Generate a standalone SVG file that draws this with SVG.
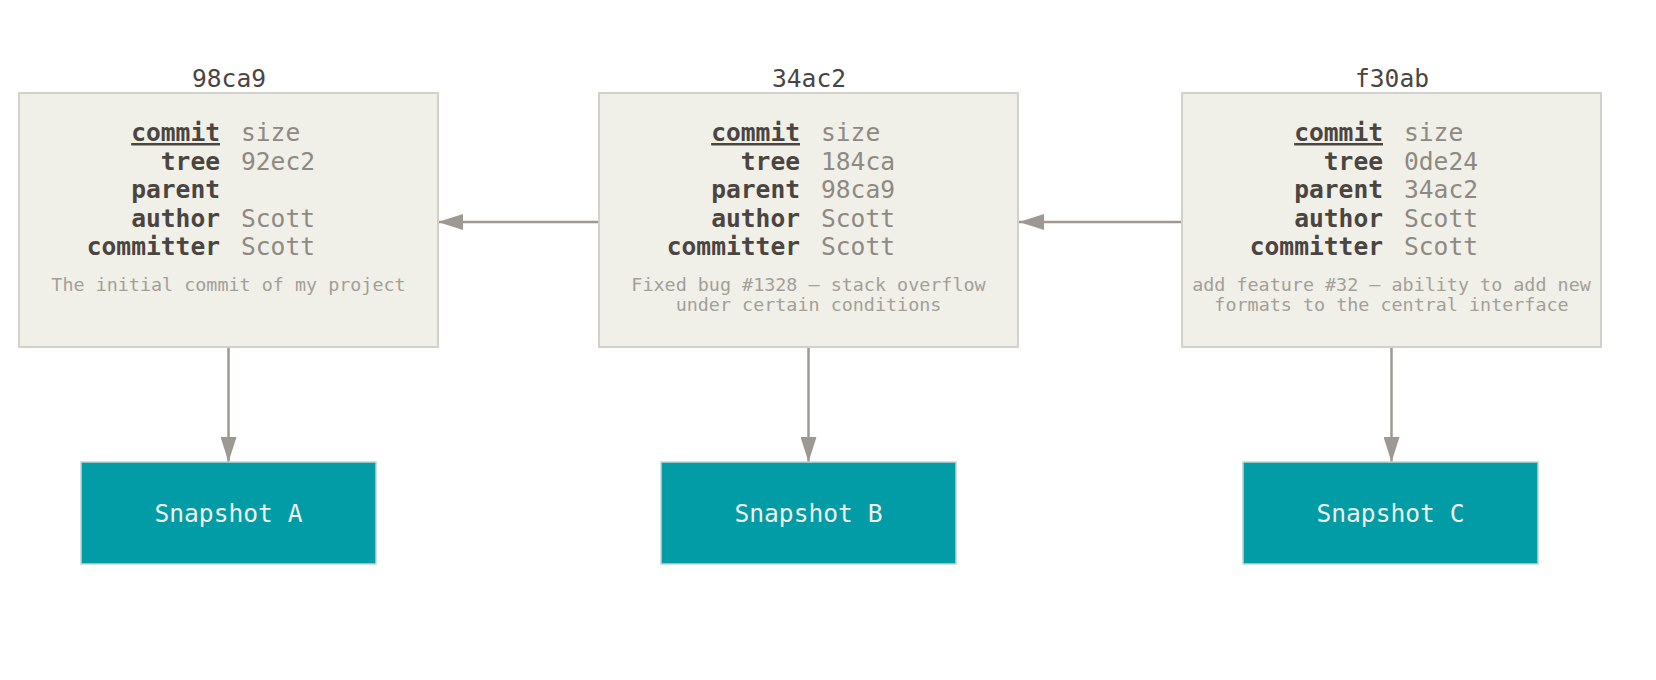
<svg xmlns="http://www.w3.org/2000/svg" width="1656" height="680" viewBox="0 0 1656 680">
<style>
.box{fill:#f0efe8;stroke:#d2d0ca;stroke-width:2}
.snap{fill:#029ca6;stroke:#c6d3d3;stroke-width:1.5}
.title{font-family:"DejaVu Sans Mono",monospace;font-size:24.6px;fill:#4b4541;text-anchor:middle}
.key{font-family:"DejaVu Sans Mono",monospace;font-size:24.6px;font-weight:bold;fill:#4b4541;text-anchor:end}
.val{font-family:"DejaVu Sans Mono",monospace;font-size:24.6px;fill:#8e8983}
.desc{font-family:"DejaVu Sans Mono",monospace;font-size:18.4px;fill:#a39f99;text-anchor:middle}
.stxt{font-family:"DejaVu Sans Mono",monospace;font-size:24.6px;fill:#f0efe8;text-anchor:middle}
.conn{stroke:#9e9892;stroke-width:2.5;fill:none}
</style>
<defs>
<marker id="ah" viewBox="0 0 25 16" refX="25" refY="8" markerWidth="25" markerHeight="16" markerUnits="userSpaceOnUse" orient="auto">
<path d="M0,0 L25,8 L0,16 Z" fill="#9e9892"/>
</marker>
</defs>
<rect width="1656" height="680" fill="#ffffff"/>
<g id="connectors">
<line class="conn" x1="599" y1="222" x2="438" y2="222" marker-end="url(#ah)"/>
<line class="conn" x1="1182" y1="222" x2="1019" y2="222" marker-end="url(#ah)"/>
<line class="conn" x1="228.5" y1="348" x2="228.5" y2="462" marker-end="url(#ah)"/>
<line class="conn" x1="808.5" y1="348" x2="808.5" y2="462" marker-end="url(#ah)"/>
<line class="conn" x1="1391.5" y1="348" x2="1391.5" y2="462" marker-end="url(#ah)"/>
</g>
<g id="commit-98ca9">
<text class="title" x="229" y="87">98ca9</text>
<rect class="box" x="19" y="93" width="419" height="254"/>
<text class="key" x="220" y="141" text-decoration="underline">commit</text>
<text class="val" x="241" y="141">size</text>
<text class="key" x="220" y="169.5">tree</text>
<text class="val" x="241" y="169.5">92ec2</text>
<text class="key" x="220" y="198">parent</text>
<text class="key" x="220" y="226.5">author</text>
<text class="val" x="241" y="226.5">Scott</text>
<text class="key" x="220" y="255">committer</text>
<text class="val" x="241" y="255">Scott</text>
<text class="desc" x="228.5" y="290.5">The initial commit of my project</text>
</g>
<g id="commit-34ac2">
<text class="title" x="809" y="87">34ac2</text>
<rect class="box" x="599" y="93" width="419" height="254"/>
<text class="key" x="800" y="141" text-decoration="underline">commit</text>
<text class="val" x="821" y="141">size</text>
<text class="key" x="800" y="169.5">tree</text>
<text class="val" x="821" y="169.5">184ca</text>
<text class="key" x="800" y="198">parent</text>
<text class="val" x="821" y="198">98ca9</text>
<text class="key" x="800" y="226.5">author</text>
<text class="val" x="821" y="226.5">Scott</text>
<text class="key" x="800" y="255">committer</text>
<text class="val" x="821" y="255">Scott</text>
<text class="desc" x="808.5" y="290.5">Fixed bug #1328 – stack overflow</text>
<text class="desc" x="808.5" y="310.5">under certain conditions</text>
</g>
<g id="commit-f30ab">
<text class="title" x="1392" y="87">f30ab</text>
<rect class="box" x="1182" y="93" width="419" height="254"/>
<text class="key" x="1383" y="141" text-decoration="underline">commit</text>
<text class="val" x="1404" y="141">size</text>
<text class="key" x="1383" y="169.5">tree</text>
<text class="val" x="1404" y="169.5">0de24</text>
<text class="key" x="1383" y="198">parent</text>
<text class="val" x="1404" y="198">34ac2</text>
<text class="key" x="1383" y="226.5">author</text>
<text class="val" x="1404" y="226.5">Scott</text>
<text class="key" x="1383" y="255">committer</text>
<text class="val" x="1404" y="255">Scott</text>
<text class="desc" x="1391.5" y="290.5">add feature #32 – ability to add new</text>
<text class="desc" x="1391.5" y="310.5">formats to the central interface</text>
</g>
<g id="snapshot-a">
<rect class="snap" x="81" y="462" width="295" height="102"/>
<text class="stxt" x="228.5" y="522">Snapshot A</text>
</g>
<g id="snapshot-b">
<rect class="snap" x="661" y="462" width="295" height="102"/>
<text class="stxt" x="808.5" y="522">Snapshot B</text>
</g>
<g id="snapshot-c">
<rect class="snap" x="1243" y="462" width="295" height="102"/>
<text class="stxt" x="1390.5" y="522">Snapshot C</text>
</g>
</svg>
